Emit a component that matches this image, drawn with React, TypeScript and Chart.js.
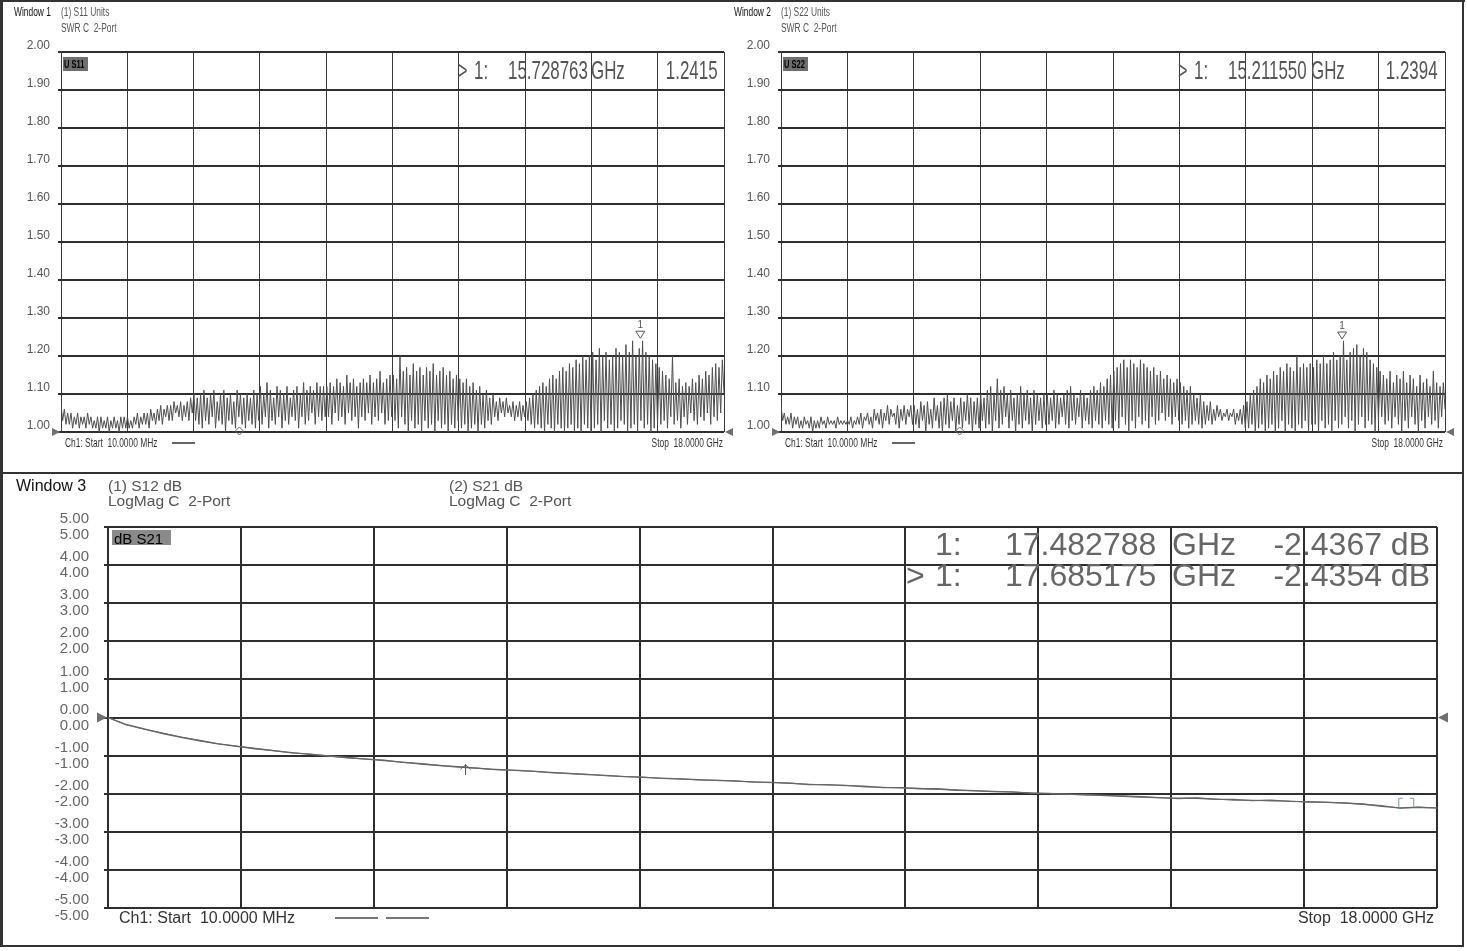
import React, { useEffect, useRef } from 'react';
import { Chart, registerables } from 'chart.js';

Chart.register(...registerables);

// ---------------- data ----------------
const START_GHZ = 0.01;
const STOP_GHZ = 18.0;
const GRID_DIVISIONS = 10;

const swrTicks = [1.0, 1.1, 1.2, 1.3, 1.4, 1.5, 1.6, 1.7, 1.8, 1.9, 2.0];
const dbTicks = [-5, -4, -3, -2, -1, 0, 1, 2, 3, 4, 5];

// S11 (Window 1): ripple peaks / troughs, 20 per grid division
const s11Peaks = [
  1.07, 1.06, 1.05, 1.05, 1.04, 1.05, 1.04, 1.04, 1.05, 1.04, 1.03, 1.04, 1.04, 1.03, 1.04, 1.03, 1.04, 1.03, 1.04, 1.04,
  1.04, 1.03, 1.04, 1.05, 1.04, 1.05, 1.05, 1.06, 1.05, 1.06, 1.07, 1.06, 1.07, 1.07, 1.08, 1.07, 1.08, 1.07, 1.08, 1.09,
  1.10, 1.09, 1.10, 1.11, 1.09, 1.10, 1.11, 1.08, 1.10, 1.11, 1.09, 1.10, 1.08, 1.11, 1.10, 1.09, 1.10, 1.09, 1.11, 1.10,
  1.12, 1.10, 1.13, 1.11, 1.09, 1.12, 1.11, 1.10, 1.12, 1.09, 1.11, 1.12, 1.10, 1.13, 1.11, 1.12, 1.11, 1.13, 1.12, 1.12,
  1.12, 1.13, 1.12, 1.14, 1.13, 1.12, 1.15, 1.13, 1.14, 1.12, 1.13, 1.14, 1.13, 1.15, 1.13, 1.14, 1.16, 1.13, 1.14, 1.15,
  1.15, 1.14, 1.20, 1.16, 1.17, 1.15, 1.18, 1.16, 1.17, 1.15, 1.17, 1.16, 1.18, 1.15, 1.16, 1.17, 1.15, 1.16, 1.14, 1.15,
  1.14, 1.13, 1.14, 1.12, 1.13, 1.11, 1.12, 1.10, 1.11, 1.09, 1.10, 1.08, 1.09, 1.08, 1.09, 1.07, 1.08, 1.07, 1.08, 1.07,
  1.08, 1.09, 1.10, 1.11, 1.12, 1.13, 1.12, 1.14, 1.15, 1.14, 1.16, 1.17, 1.16, 1.18, 1.17, 1.19, 1.18, 1.20, 1.19, 1.20,
  1.21, 1.19, 1.22, 1.20, 1.21, 1.19, 1.20, 1.22, 1.21, 1.20, 1.23, 1.21, 1.24, 1.20, 1.22, 1.24, 1.21, 1.20, 1.19, 1.18,
  1.17, 1.16, 1.15, 1.14, 1.20, 1.13, 1.14, 1.12, 1.13, 1.12, 1.14, 1.13, 1.15, 1.14, 1.16, 1.15, 1.17, 1.18, 1.17, 1.19,
];
const s11Troughs = [
  1.03, 1.02, 1.02, 1.01, 1.02, 1.01, 1.02, 1.01, 1.02, 1.01, 1.01, 1.00, 1.01, 1.01, 1.00, 1.01, 1.01, 1.00, 1.01, 1.01,
  1.01, 1.01, 1.02, 1.01, 1.02, 1.02, 1.01, 1.03, 1.02, 1.03, 1.02, 1.04, 1.03, 1.03, 1.05, 1.04, 1.03, 1.04, 1.03, 1.05,
  1.03, 1.02, 1.01, 1.03, 1.02, 1.04, 1.01, 1.03, 1.02, 1.00, 1.03, 1.02, 1.01, 1.04, 1.02, 1.01, 1.03, 1.02, 1.01, 1.03,
  1.02, 1.04, 1.01, 1.03, 1.02, 1.04, 1.01, 1.03, 1.02, 1.04, 1.03, 1.01, 1.04, 1.02, 1.03, 1.05, 1.02, 1.04, 1.03, 1.04,
  1.04, 1.02, 1.05, 1.03, 1.04, 1.02, 1.05, 1.03, 1.04, 1.01, 1.04, 1.03, 1.05, 1.02, 1.04, 1.03, 1.05, 1.02, 1.03, 1.04,
  1.03, 1.01, 1.04, 1.02, 1.00, 1.03, 1.01, 1.02, 1.00, 1.03, 1.01, 1.02, 1.00, 1.03, 1.01, 1.02, 1.00, 1.02, 1.01, 1.03,
  1.01, 1.02, 1.00, 1.01, 1.02, 1.00, 1.02, 1.01, 1.03, 1.02, 1.04, 1.03, 1.05, 1.04, 1.05, 1.04, 1.03, 1.04, 1.03, 1.04,
  1.03, 1.02, 1.01, 1.02, 1.01, 1.00, 1.02, 1.01, 1.00, 1.02, 1.01, 1.00, 1.01, 1.02, 1.00, 1.01, 1.00, 1.02, 1.01, 1.00,
  1.01, 1.02, 1.00, 1.03, 1.01, 1.02, 1.00, 1.01, 1.03, 1.02, 1.00, 1.01, 1.02, 1.00, 1.03, 1.01, 1.02, 1.00, 1.01, 1.02,
  1.02, 1.03, 1.01, 1.04, 1.02, 1.03, 1.01, 1.04, 1.02, 1.05, 1.03, 1.02, 1.04, 1.03, 1.05, 1.02, 1.04, 1.03, 1.05, 1.10,
];

// S22 (Window 2)
const s22Peaks = [
  1.07, 1.05, 1.04, 1.05, 1.04, 1.04, 1.03, 1.04, 1.03, 1.04, 1.03, 1.03, 1.04, 1.03, 1.04, 1.03, 1.03, 1.04, 1.03, 1.03,
  1.03, 1.04, 1.03, 1.04, 1.05, 1.04, 1.05, 1.04, 1.06, 1.05, 1.06, 1.05, 1.07, 1.06, 1.05, 1.07, 1.06, 1.07, 1.06, 1.07,
  1.07, 1.06, 1.08, 1.07, 1.08, 1.06, 1.09, 1.07, 1.08, 1.09, 1.10, 1.08, 1.09, 1.07, 1.09, 1.08, 1.10, 1.09, 1.08, 1.09,
  1.10, 1.09, 1.11, 1.12, 1.10, 1.14, 1.11, 1.12, 1.10, 1.11, 1.09, 1.10, 1.12, 1.10, 1.11, 1.09, 1.11, 1.10, 1.09, 1.10,
  1.10, 1.09, 1.11, 1.10, 1.09, 1.10, 1.11, 1.12, 1.10, 1.09, 1.11, 1.10, 1.09, 1.11, 1.12, 1.11, 1.13, 1.12, 1.14, 1.15,
  1.16, 1.17, 1.18, 1.19, 1.17, 1.19, 1.18, 1.17, 1.19, 1.18, 1.17, 1.16, 1.17, 1.15, 1.16, 1.14, 1.15, 1.14, 1.13, 1.14,
  1.13, 1.12, 1.11, 1.12, 1.10, 1.09, 1.10, 1.08, 1.07, 1.08, 1.06, 1.07, 1.06, 1.05, 1.06, 1.05, 1.06, 1.05, 1.06, 1.07,
  1.08, 1.10, 1.11, 1.12, 1.14, 1.13, 1.15, 1.14, 1.16, 1.15, 1.17, 1.16, 1.18, 1.17, 1.16, 1.20, 1.17, 1.18, 1.17, 1.18,
  1.17, 1.19, 1.18, 1.20, 1.18, 1.19, 1.21, 1.19, 1.20, 1.24, 1.19, 1.21, 1.22, 1.23, 1.20, 1.22, 1.21, 1.19, 1.18, 1.17,
  1.16, 1.15, 1.14, 1.16, 1.13, 1.15, 1.14, 1.16, 1.13, 1.15, 1.14, 1.12, 1.15, 1.13, 1.14, 1.12, 1.16, 1.13, 1.12, 1.13,
];
const s22Troughs = [
  1.03, 1.02, 1.02, 1.01, 1.02, 1.01, 1.01, 1.02, 1.01, 1.00, 1.01, 1.01, 1.02, 1.01, 1.02, 1.02, 1.01, 1.02, 1.02, 1.02,
  1.02, 1.01, 1.02, 1.02, 1.01, 1.03, 1.02, 1.01, 1.03, 1.02, 1.01, 1.03, 1.02, 1.04, 1.02, 1.01, 1.03, 1.02, 1.04, 1.02,
  1.02, 1.01, 1.03, 1.00, 1.02, 1.01, 1.03, 1.01, 1.00, 1.02, 1.01, 1.03, 1.00, 1.02, 1.01, 1.03, 1.02, 1.00, 1.02, 1.01,
  1.03, 1.01, 1.02, 1.00, 1.03, 1.01, 1.02, 1.04, 1.01, 1.03, 1.00, 1.02, 1.01, 1.03, 1.02, 1.00, 1.02, 1.03, 1.01, 1.02,
  1.02, 1.03, 1.01, 1.02, 1.04, 1.02, 1.01, 1.03, 1.02, 1.04, 1.01, 1.03, 1.02, 1.01, 1.03, 1.02, 1.01, 1.03, 1.02, 1.01,
  1.03, 1.01, 1.04, 1.02, 1.00, 1.03, 1.01, 1.04, 1.02, 1.03, 1.01, 1.04, 1.02, 1.03, 1.05, 1.03, 1.04, 1.02, 1.04, 1.03,
  1.02, 1.03, 1.01, 1.02, 1.03, 1.02, 1.01, 1.02, 1.03, 1.02, 1.03, 1.04, 1.03, 1.04, 1.03, 1.04, 1.02, 1.03, 1.02, 1.01,
  1.01, 1.02, 1.00, 1.01, 1.02, 1.00, 1.01, 1.02, 1.00, 1.01, 1.03, 1.00, 1.02, 1.01, 1.00, 1.02, 1.01, 1.03, 1.00, 1.02,
  1.02, 1.00, 1.03, 1.01, 1.02, 1.00, 1.03, 1.01, 1.02, 1.04, 1.01, 1.03, 1.00, 1.02, 1.04, 1.01, 1.03, 1.02, 1.00, 1.03,
  1.04, 1.02, 1.03, 1.01, 1.04, 1.02, 1.00, 1.03, 1.01, 1.04, 1.02, 1.00, 1.03, 1.01, 1.04, 1.02, 1.03, 1.01, 1.04, 1.06,
];

// Window 3: insertion loss, one reading every 0.25 GHz
const s21Values = [
  0.00, -0.18, -0.30, -0.42, -0.52, -0.61, -0.69, -0.76, -0.82, -0.87, -0.92, -0.97, -1.01, -1.05, -1.09, -1.13,
  -1.17, -1.22, -1.26, -1.30, -1.33, -1.36, -1.38, -1.41, -1.44, -1.47, -1.50, -1.52, -1.55, -1.57, -1.59, -1.61,
  -1.63, -1.65, -1.67, -1.69, -1.71, -1.72, -1.76, -1.76, -1.79, -1.80, -1.84, -1.84, -1.87, -1.87, -1.91, -1.92,
  -1.94, -1.96, -1.98, -1.99, -2.02, -2.02, -2.05, -2.06, -2.08, -2.11, -2.12, -2.12, -2.15, -2.15, -2.18, -2.17,
  -2.20, -2.21, -2.22, -2.25, -2.27, -2.33, -2.37, -2.35, -2.38,
];
const s12Values = [
  0.00, -0.19, -0.31, -0.41, -0.51, -0.60, -0.69, -0.75, -0.81, -0.87, -0.93, -0.96, -1.01, -1.06, -1.09, -1.12,
  -1.18, -1.21, -1.26, -1.29, -1.33, -1.37, -1.39, -1.41, -1.45, -1.47, -1.49, -1.53, -1.55, -1.56, -1.60, -1.61,
  -1.64, -1.65, -1.66, -1.70, -1.70, -1.73, -1.75, -1.77, -1.78, -1.82, -1.83, -1.85, -1.86, -1.89, -1.90, -1.93,
  -1.95, -1.95, -1.99, -2.00, -2.01, -2.04, -2.04, -2.07, -2.09, -2.10, -2.13, -2.11, -2.14, -2.17, -2.17, -2.19,
  -2.19, -2.22, -2.23, -2.24, -2.28, -2.31, -2.38, -2.36, -2.37,
];
const LOSS_STEP_GHZ = 0.25;

const s11Marker = { freq: 15.728763, value: 1.2415 };
const s22Marker = { freq: 15.21155, value: 1.2394 };
const s21Markers = [
  { label: '1:', active: false, freq: 17.482788, value: -2.4367 },
  { label: '1:', active: true, freq: 17.685175, value: -2.4354 },
];
const stimulusMarkerGHz = 4.85;

// ---------------- helpers ----------------
const gridValues = Array.from({ length: GRID_DIVISIONS + 1 }, (_, i) => START_GHZ + (i * (STOP_GHZ - START_GHZ)) / GRID_DIVISIONS);

function sweep(peaks: number[], troughs: number[]) {
  const pts: number[] = [];
  peaks.forEach((p, i) => { pts.push(p); pts.push(troughs[i]); });
  const n = pts.length;
  return pts.map((v, k) => ({ x: START_GHZ + (k * (STOP_GHZ - START_GHZ)) / (n - 1), y: v }));
}
function lossSeries(vals: number[]) {
  return vals.map((v, i) => ({ x: i === 0 ? START_GHZ : i * LOSS_STEP_GHZ, y: v }));
}

const NARROW = "'Liberation Sans Narrow', 'Arial Narrow', 'Liberation Sans', Arial, sans-serif";
const SANS = "'Liberation Sans', Arial, sans-serif";

const decorPlugin = {
  id: 'decor',
  afterDatasetsDraw(chart: any, _args: any, o: any) {
    const { ctx, chartArea: a, scales } = chart;
    const x = scales.x, y = scales.y;
    ctx.save();
    // reference-level triangles
    if (o.ref != null) {
      const py = y.getPixelForValue(o.ref);
      const s = o.refSize;
      ctx.fillStyle = '#6f6f6f';
      ctx.beginPath();
      ctx.moveTo(a.left - s - 1, py - s / 2); ctx.lineTo(a.left - 1, py); ctx.lineTo(a.left - s - 1, py + s / 2);
      ctx.closePath(); ctx.fill();
      ctx.beginPath();
      ctx.moveTo(a.right + s + 1, py - s / 2); ctx.lineTo(a.right + 1, py); ctx.lineTo(a.right + s + 1, py + s / 2);
      ctx.closePath(); ctx.fill();
    }
    // stimulus marker diamond on bottom edge
    if (o.stimBottom != null) {
      const px = x.getPixelForValue(o.stimBottom);
      const py = a.bottom - 1;
      ctx.strokeStyle = '#666'; ctx.lineWidth = 1;
      ctx.beginPath();
      ctx.moveTo(px, py - 4); ctx.lineTo(px + 4, py); ctx.lineTo(px, py + 4); ctx.lineTo(px - 4, py); ctx.closePath();
      ctx.stroke();
    }
    // stimulus marker on the trace
    if (o.stimTrace != null) {
      const ds = chart.data.datasets[0].data;
      let best = ds[0];
      ds.forEach((p: any) => { if (Math.abs(p.x - o.stimTrace) < Math.abs(best.x - o.stimTrace)) best = p; });
      const px = x.getPixelForValue(o.stimTrace);
      const py = y.getPixelForValue(best.y);
      ctx.strokeStyle = '#555'; ctx.lineWidth = 1;
      ctx.beginPath();
      ctx.moveTo(px, py - 3); ctx.lineTo(px, py + 8);
      ctx.moveTo(px - 5, py + 2); ctx.lineTo(px, py - 2); ctx.lineTo(px + 5, py + 2);
      ctx.stroke();
    }
    // active marker triangles with number
    (o.markers || []).forEach((m: any) => {
      const px = x.getPixelForValue(m.freq);
      const py = y.getPixelForValue(m.value);
      ctx.strokeStyle = '#555'; ctx.lineWidth = 1;
      ctx.beginPath();
      ctx.moveTo(px - 4.5, py - 9); ctx.lineTo(px + 4.5, py - 9); ctx.lineTo(px, py - 2); ctx.closePath();
      ctx.stroke();
      ctx.fillStyle = '#555';
      ctx.font = `10px ${NARROW}`;
      ctx.textAlign = 'center'; ctx.textBaseline = 'middle';
      ctx.fillText('1', px, py - 15);
    });
    // small tick markers above trace
    (o.ticks || []).forEach((m: any) => {
      const px = x.getPixelForValue(m.freq);
      const py = y.getPixelForValue(m.value);
      ctx.strokeStyle = '#8597ab'; ctx.lineWidth = 1;
      ctx.beginPath();
      ctx.moveTo(px, py - 3); ctx.lineTo(px, py - 12); ctx.lineTo(px + (m.active ? -4 : 4), py - 12);
      ctx.stroke();
    });
    ctx.restore();
  },
};

function xScale(gridColor: string, gridWidth: number) {
  return {
    type: 'linear',
    min: START_GHZ,
    max: STOP_GHZ,
    afterBuildTicks: (s: any) => { s.ticks = gridValues.map((v) => ({ value: v })); },
    afterFit: (s: any) => { s.height = 0; },
    ticks: { display: false },
    grid: { color: gridColor, lineWidth: gridWidth, drawTicks: false },
    border: { display: false },
  };
}

function makeSwrChart(canvas: HTMLCanvasElement, peaks: number[], troughs: number[], marker: any, padRight: number) {
  return new Chart(canvas, {
    type: 'line',
    data: {
      datasets: [{ data: sweep(peaks, troughs), borderColor: '#4e4e4e', borderWidth: 1, pointRadius: 0, tension: 0 }],
    },
    options: {
      responsive: false,
      animation: false,
      events: [],
      layout: { padding: { top: 52, right: padRight, bottom: 41, left: 0 } },
      plugins: {
        legend: { display: false },
        tooltip: { enabled: false },
        decor: { ref: 1.0, refSize: 8, stimBottom: stimulusMarkerGHz, markers: [marker] },
      },
      scales: {
        x: xScale('#3a3a3a', 1),
        y: {
          min: 1.0,
          max: 2.0,
          afterBuildTicks: (s: any) => { s.ticks = swrTicks.map((v) => ({ value: v })); },
          afterFit: (s: any) => { s.width = 61; },
          ticks: {
            color: '#555',
            font: { family: NARROW, size: 12 },
            padding: 8,
            labelOffset: -6,
            callback: (v: any) => Number(v).toFixed(2),
          },
          grid: { color: '#2e2e2e', lineWidth: 2, tickLength: 3, tickColor: '#2e2e2e' },
          border: { display: false },
        },
      },
    } as any,
    plugins: [decorPlugin],
  });
}

function makeLossChart(canvas: HTMLCanvasElement) {
  return new Chart(canvas, {
    type: 'line',
    data: {
      datasets: [
        { data: lossSeries(s21Values), borderColor: '#666', borderWidth: 1.3, pointRadius: 0, tension: 0 },
        { data: lossSeries(s12Values), borderColor: '#6a6a6a', borderWidth: 1.1, pointRadius: 0, tension: 0 },
      ],
    },
    options: {
      responsive: false,
      animation: false,
      events: [],
      layout: { padding: { top: 54, right: 30, bottom: 43, left: 0 } },
      plugins: {
        legend: { display: false },
        tooltip: { enabled: false },
        decor: { ref: 0, refSize: 10, stimTrace: stimulusMarkerGHz, ticks: s21Markers },
      },
      scales: {
        x: xScale('#2e2e2e', 2),
        y: {
          min: -5,
          max: 5,
          afterBuildTicks: (s: any) => { s.ticks = dbTicks.map((v) => ({ value: v })); },
          afterFit: (s: any) => { s.width = 108; },
          ticks: {
            color: '#666',
            font: { family: SANS, size: 15, lineHeight: '16px' },
            padding: 15,
            callback: (v: any) => [Number(v).toFixed(2), Number(v).toFixed(2)],
          },
          grid: { color: '#2e2e2e', lineWidth: 2, tickLength: 4, tickColor: '#2e2e2e' },
          border: { display: false },
        },
      },
    } as any,
    plugins: [decorPlugin],
  });
}

// ---------------- text overlay ----------------
function Txt(p: { x: number; y: number; s: number; sx?: number; c?: string; r?: boolean; w?: number; f?: string; children: any }) {
  const style: any = {
    position: 'absolute',
    top: p.y - p.s / 2,
    fontSize: p.s,
    lineHeight: `${p.s}px`,
    color: p.c || '#555',
    fontWeight: p.w || 400,
    fontFamily: p.f || SANS,
    whiteSpace: 'pre',
    transform: `scaleX(${p.sx ?? 1})`,
  };
  if (p.r) { style.right = 1467 - p.x; style.transformOrigin = 'right center'; }
  else { style.left = p.x; style.transformOrigin = 'left center'; }
  return <div style={style}>{p.children}</div>;
}

function SwrOverlay({ ox, win, param, tag, marker }: { ox: number; win: string; param: string; tag: string; marker: any }) {
  const sx = 0.7;
  return (
    <>
      <Txt x={ox + 14} y={12} s={12} sx={sx} c="#111">{win}</Txt>
      <Txt x={ox + 61} y={12} s={12} sx={sx}>{param}</Txt>
      <Txt x={ox + 61} y={28} s={12} sx={sx}>{'SWR C  2-Port'}</Txt>
      <div style={{ position: 'absolute', left: ox + 63, top: 57, width: 25, height: 14, background: '#6e6e6e' }} />
      <Txt x={ox + 64} y={64} s={11} sx={0.68} c="#000" w={700}>{tag}</Txt>
      <Txt x={ox + 458} y={70} s={26} sx={0.62}>{'>'}</Txt>
      <Txt x={ox + 474} y={70} s={26} sx={0.65}>{'1:'}</Txt>
      <Txt x={ox + 508} y={70} s={26} sx={0.65}>{marker.freq.toFixed(6)}</Txt>
      <Txt x={ox + 591} y={70} s={26} sx={0.65}>{'GHz'}</Txt>
      <Txt x={ox + 718} y={70} s={26} sx={0.65} r>{marker.value.toFixed(4)}</Txt>
      <Txt x={ox + 65} y={443} s={12} sx={sx} c="#333">{'Ch1: Start  10.0000 MHz'}</Txt>
      <div style={{ position: 'absolute', left: ox + 172, top: 442, width: 23, height: 2, background: '#666' }} />
      <Txt x={ox + 723} y={443} s={12} sx={sx} c="#333" r>{'Stop  18.0000 GHz'}</Txt>
    </>
  );
}

export default function App() {
  const c1 = useRef<HTMLCanvasElement>(null);
  const c2 = useRef<HTMLCanvasElement>(null);
  const c3 = useRef<HTMLCanvasElement>(null);

  useEffect(() => {
    const charts = [
      makeSwrChart(c1.current!, s11Peaks, s11Troughs, s11Marker, 11),
      makeSwrChart(c2.current!, s22Peaks, s22Troughs, s22Marker, 22),
      makeLossChart(c3.current!),
    ];
    return () => charts.forEach((c) => c.destroy());
  }, []);

  const line = (l: number, t: number, w: number, h: number, bg = '#333') => (
    <div style={{ position: 'absolute', left: l, top: t, width: w, height: h, background: bg }} />
  );

  return (
    <div style={{ position: 'fixed', left: 0, top: 0, width: 1467, height: 951, background: '#fff', overflow: 'hidden' }}>
      <canvas ref={c1} width={735} height={473} style={{ position: 'absolute', left: 0, top: 0, width: 735, height: 473 }} />
      <canvas ref={c2} width={747} height={473} style={{ position: 'absolute', left: 720, top: 0, width: 747, height: 473 }} />
      <canvas ref={c3} width={1467} height={478} style={{ position: 'absolute', left: 0, top: 473, width: 1467, height: 478 }} />

      {/* frame */}
      {line(0, 0, 1465, 2)}
      {line(0, 0, 3, 947)}
      {line(1462, 0, 2, 947)}
      {line(0, 472, 1464, 2)}
      {line(0, 945, 1464, 2)}

      <SwrOverlay ox={0} win="Window 1" param="(1) S11 Units" tag="U S11" marker={s11Marker} />
      <SwrOverlay ox={720} win="Window 2" param="(1) S22 Units" tag="U S22" marker={s22Marker} />

      {/* Window 3 */}
      <Txt x={16} y={486} s={16} c="#111">{'Window 3'}</Txt>
      <Txt x={108} y={486} s={15.5}>{'(1) S12 dB'}</Txt>
      <Txt x={108} y={501} s={15.5}>{'LogMag C  2-Port'}</Txt>
      <Txt x={449} y={486} s={15.5}>{'(2) S21 dB'}</Txt>
      <Txt x={449} y={501} s={15.5}>{'LogMag C  2-Port'}</Txt>
      <div style={{ position: 'absolute', left: 112, top: 530, width: 59, height: 15, background: '#8a8a8a' }} />
      <Txt x={114} y={538} s={15} c="#000">{'dB S21'}</Txt>
      {s21Markers.map((m, i) => {
        const y = 544 + i * 31;
        return (
          <React.Fragment key={i}>
            {m.active && <Txt x={906} y={y} s={32} c="#666">{'>'}</Txt>}
            <Txt x={935} y={y} s={32} c="#666">{m.label}</Txt>
            <Txt x={1005} y={y} s={32} c="#666">{m.freq.toFixed(6)}</Txt>
            <Txt x={1172} y={y} s={32} c="#666">{'GHz'}</Txt>
            <Txt x={1430} y={y} s={32} c="#666" r>{`${m.value.toFixed(4)} dB`}</Txt>
          </React.Fragment>
        );
      })}
      <Txt x={119} y={918} s={16} c="#333">{'Ch1: Start  10.0000 MHz'}</Txt>
      {line(335, 917, 43, 2, '#777')}
      {line(386, 917, 43, 2, '#777')}
      <Txt x={1434} y={918} s={16} c="#333" r>{'Stop  18.0000 GHz'}</Txt>
    </div>
  );
}
